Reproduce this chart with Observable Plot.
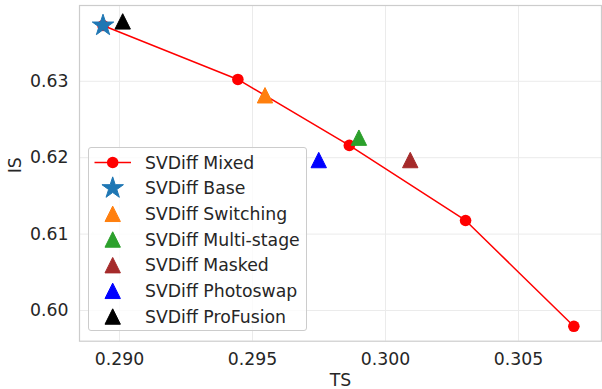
<!DOCTYPE html>
<html>
<head>
<meta charset="utf-8">
<script src="https://cdn.jsdelivr.net/npm/d3@7"></script>
<script src="https://cdn.jsdelivr.net/npm/@observablehq/plot@0.6"></script>
<style>
  html, body { margin: 0; padding: 0; background: #fff; }
  #wrap { position: relative; width: 602px; height: 389px; font-family: "DejaVu Sans", sans-serif; }
  #legend { position: absolute; left: 88px; top: 147px; width: 219px; height: 184px;
    border: 1px solid #cccccc; border-radius: 3px; background: rgba(255,255,255,0.8); box-sizing: border-box; }
  #legend svg { position: absolute; left: 0; top: 0; }
</style>
</head>
<body>
<div id="wrap"></div>
<script>
// ---- data ----
const mixedTS = [0.28938, 0.29445, 0.29864, 0.30301, 0.30708];
const mixedIS = [0.6373, 0.63024, 0.62161, 0.61178, 0.59793];
const mixedName = "SVDiff Mixed";

const methods = ["SVDiff Base", "SVDiff Switching", "SVDiff Multi-stage", "SVDiff Masked", "SVDiff Photoswap", "SVDiff ProFusion"];
const methodTS = [0.28938, 0.29547, 0.29900, 0.30093, 0.29749, 0.29012];
const methodIS = [0.6373, 0.62817, 0.62262, 0.61969, 0.61969, 0.63784];
const methodColors = ["#1f77b4", "#ff7f0e", "#2ca02c", "#a52a2a", "#0000ff", "#000000"];
const methodShapes = ["star", "triangle", "triangle", "triangle", "triangle", "triangle"];

const xTicks = [0.290, 0.295, 0.300, 0.305];
const yTicks = [0.60, 0.61, 0.62, 0.63];

// ---- custom matplotlib-like symbols ----
const starSym = {
  draw(ctx, size) {
    const R = Math.sqrt(size / Math.PI), r = R * 0.381966;
    for (let i = 0; i < 10; i++) {
      const a = -Math.PI / 2 + i * Math.PI / 5;
      const rr = i % 2 ? r : R;
      const px = rr * Math.cos(a), py = rr * Math.sin(a);
      if (i === 0) ctx.moveTo(px, py); else ctx.lineTo(px, py);
    }
    ctx.closePath();
  }
};
const triSym = {
  draw(ctx, size) {
    const r = Math.sqrt(size / Math.PI);
    ctx.moveTo(0, -r); ctx.lineTo(-r, r); ctx.lineTo(r, r); ctx.closePath();
  }
};
const symOf = s => s === "star" ? starSym : triSym;
const rOf = s => s === "star" ? 11.3 : 7.7;

const mixed = mixedTS.map((x, i) => ({x, y: mixedIS[i]}));
const pts = methods.map((name, i) => ({name, x: methodTS[i], y: methodIS[i], color: methodColors[i], shape: methodShapes[i]}));

const txt = "#262626";
const fs = "17.3px";
const chart = Plot.plot({
  width: 602, height: 389,
  marginLeft: 79, marginRight: 1, marginTop: 5, marginBottom: 48.3,
  style: {fontFamily: "DejaVu Sans, sans-serif", fontSize: fs, color: txt, background: "white"},
  x: {domain: [0.288496, 0.30812]},
  y: {domain: [0.59598, 0.63992]},
  marks: [
    Plot.gridX(xTicks, {stroke: "#ebebeb", strokeOpacity: 1, strokeWidth: 1}),
    Plot.gridY(yTicks, {stroke: "#ebebeb", strokeOpacity: 1, strokeWidth: 1}),
    Plot.frame({stroke: "#cccccc", strokeWidth: 1.2}),
    Plot.axisX(xTicks, {tickSize: 0, tickPadding: 11.5, tickFormat: d3.format(".3f"), label: null, fill: txt}),
    Plot.axisY(yTicks, {tickSize: 0, tickPadding: 11, tickFormat: d3.format(".2f"), label: null, fill: txt}),
    Plot.text(["TS"], {frameAnchor: "bottom", dy: 39, text: d => d, fill: txt, lineAnchor: "middle"}),
    Plot.text(["IS"], {frameAnchor: "left", dx: -64, rotate: -90, text: d => d, fill: txt, lineAnchor: "middle"}),
    Plot.line(mixed, {x: "x", y: "y", stroke: "#ff0000", strokeWidth: 1.5}),
    Plot.dot(mixed, {x: "x", y: "y", r: 5.8, fill: "#ff0000", stroke: "none"}),
    Plot.dot(pts.filter(d => d.shape === "star"), {x: "x", y: "y", r: rOf("star"), symbol: starSym, fill: d => d.color, stroke: d => d.color, strokeWidth: 1, strokeLinejoin: "miter"}),
    Plot.dot(pts.filter(d => d.shape === "triangle"), {x: "x", y: "y", r: rOf("triangle"), symbol: triSym, fill: d => d.color, stroke: d => d.color, strokeWidth: 1, strokeLinejoin: "miter"})
  ]
});
document.getElementById("wrap").appendChild(chart);

// ---- legend ----
const legend = document.createElement("div");
legend.id = "legend";
document.getElementById("wrap").appendChild(legend);
const lsvg = d3.select(legend).append("svg").attr("width", 219).attr("height", 184)
  .attr("font-family", "DejaVu Sans, sans-serif").attr("font-size", fs);
const rowH = 25.67, y0 = 14.5, mx = 23.7, tx = 56;
const entries = [{name: mixedName, kind: "mixed"}].concat(pts.map(p => ({name: p.name, kind: p.shape, color: p.color})));
entries.forEach((e, i) => {
  const y = y0 + i * rowH;
  const g = lsvg.append("g");
  if (e.kind === "mixed") {
    g.append("line").attr("x1", 5.5).attr("x2", 42).attr("y1", y).attr("y2", y).attr("stroke", "#ff0000").attr("stroke-width", 1.5);
    g.append("circle").attr("cx", mx).attr("cy", y).attr("r", 5.8).attr("fill", "#ff0000");
  } else {
    const sym = symOf(e.kind);
    const r = rOf(e.kind);
    const p = d3.path(); sym.draw(p, r * r * Math.PI);
    g.append("path").attr("d", p.toString()).attr("transform", `translate(${mx},${y})`)
      .attr("fill", e.color).attr("stroke", e.color).attr("stroke-width", 1);
  }
  g.append("text").attr("x", tx).attr("y", y).attr("dy", "0.35em").attr("fill", txt).text(e.name);
});
</script>
</body>
</html>
